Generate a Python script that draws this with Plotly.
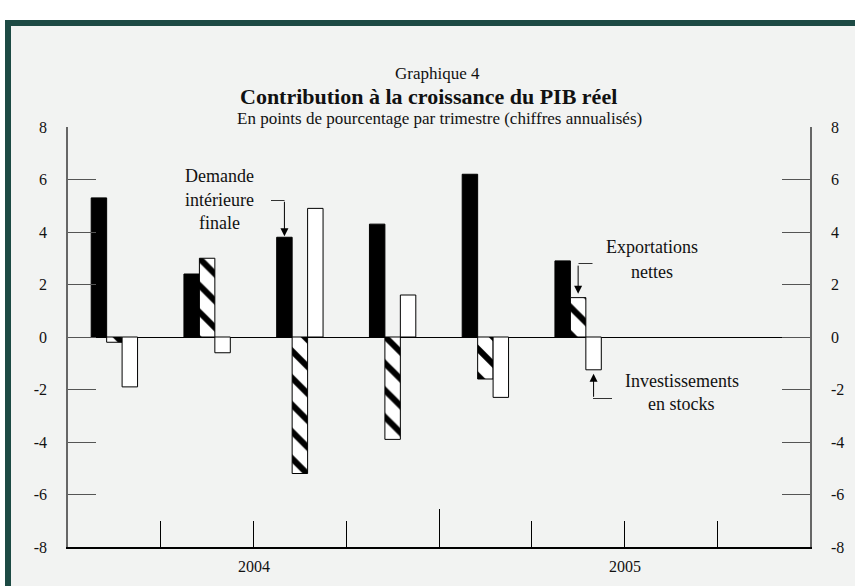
import plotly.graph_objects as go

# ---- data ----
quarters = ["2004T1", "2004T2", "2004T3", "2004T4", "2005T1", "2005T2", "2005T3", "2005T4"]
years = ["2004", "2005"]
demande_interieure = [5.3, 2.4, 3.8, 4.3, 6.2, 2.9]
exportations_nettes = [-0.2, 3.0, -5.2, -3.9, -1.6, 1.5]
investissements_stocks = [-1.9, -0.6, 4.9, 1.6, -2.3, -1.25]
y_ticks = [-8, -6, -4, -2, 0, 2, 4, 6, 8]
y_tick_text = ["-8", "-6", "-4", "-2", "0", "2", "4", "6", "8"]

W, H = 855, 586
L, R, T, B = 68, 45, 127, 39
PW, PH = W - L - R, H - T - B

def px_x(px):
    return (px - L) / PW

def px_y(py):
    return (H - B - py) / PH

n = len(demande_interieure)
xpos = [i + 0.5 for i in range(n)]
serif = "Liberation Serif"
ink = "#111"

fig = go.Figure()
fig.add_trace(go.Bar(x=xpos, y=demande_interieure, name="Demande intérieure finale",
                     marker=dict(color="black", line=dict(color="black", width=1))))
fig.add_trace(go.Bar(x=xpos, y=exportations_nettes, name="Exportations nettes",
                     marker=dict(color="white", line=dict(color="black", width=1),
                                 pattern=dict(shape="\\", fgcolor="black", bgcolor="white",
                                              fgopacity=1, size=19, solidity=0.32))))
fig.add_trace(go.Bar(x=xpos, y=investissements_stocks, name="Investissements en stocks",
                     marker=dict(color="white", line=dict(color="black", width=1))))
fig.add_trace(go.Scatter(x=[0], y=[0], yaxis="y2", mode="markers", marker=dict(opacity=0),
                         showlegend=False, hoverinfo="skip"))

fig.update_layout(
    width=W, height=H,
    margin=dict(l=L, r=R, t=T, b=B),
    paper_bgcolor="white",
    plot_bgcolor="rgba(0,0,0,0)",
    showlegend=False,
    barmode="group", bargap=0.5, bargroupgap=0,
    font=dict(family=serif, size=16, color=ink),
    xaxis=dict(range=[0, len(quarters)], showgrid=False, zeroline=False,
               showline=True, linecolor="black", linewidth=1.5,
               tickmode="array", tickvals=[4], ticks="inside", ticklen=38,
               tickcolor="black", tickwidth=1, showticklabels=False,
               minor=dict(tickmode="linear", tick0=0, dtick=1, ticks="inside",
                          ticklen=26, tickcolor="black", tickwidth=1)),
    yaxis=dict(range=[-8, 8], tickvals=y_ticks, ticktext=y_tick_text, ticks="inside",
               ticklen=28, tickcolor="#555", tickwidth=1, showgrid=False,
               zeroline=True, zerolinecolor="black", zerolinewidth=1,
               showline=True, linecolor="#666", linewidth=1.5,
               ticklabelstandoff=16, tickfont=dict(size=16)),
    yaxis2=dict(range=[-8, 8], tickvals=y_ticks, ticktext=y_tick_text, overlaying="y",
                side="right", ticks="inside", ticklen=28, tickcolor="#555", tickwidth=1,
                showgrid=False, zeroline=False, showline=True, linecolor="#666",
                linewidth=1.5, ticklabelstandoff=16, tickfont=dict(size=16)),
)

# frame and background
fig.add_shape(type="rect", xref="paper", yref="paper",
              x0=px_x(8), x1=px_x(880), y0=px_y(620), y1=px_y(23),
              fillcolor="#f2f3f2", line=dict(color="#1d4a44", width=6), layer="below")

def text_at(txt, px, py, size, bold=False):
    fig.add_annotation(text=f"<b>{txt}</b>" if bold else txt, xref="paper", yref="paper",
                       x=px_x(px), y=px_y(py), xanchor="center", yanchor="middle",
                       showarrow=False, font=dict(size=size, family=serif, color=ink))

# titles
text_at("Graphique 4", 437, 73, 17)
text_at("Contribution à la croissance du PIB réel", 428, 96, 22, bold=True)
text_at("En points de pourcentage par trimestre (chiffres annualisés)", 439, 118, 17)

# year labels
for i, yr in enumerate(years):
    fig.add_annotation(text=yr, x=2 + 4 * i, xref="x", yref="paper", y=px_y(566),
                       xanchor="center", yanchor="middle", showarrow=False,
                       font=dict(size=16, family=serif, color=ink))

bw = 1 / 6
lab = 18

# Demande intérieure finale (Q3 2004 black bar)
xa = 2 + 0.5 - bw
text_at("Demande", 219, 176, lab)
text_at("intérieure", 219, 200, lab)
text_at("finale", 219, 223, lab)
fig.add_shape(type="line", xref="paper", yref="paper", x0=px_x(271), x1=px_x(284.5),
              y0=px_y(200.5), y1=px_y(200.5), line=dict(color="#333", width=1))
fig.add_annotation(x=xa, y=demande_interieure[2], ax=0, ay=-37, text="", showarrow=True,
                   arrowhead=2, arrowsize=1.6, arrowwidth=1, arrowcolor="black", standoff=1)

# Exportations nettes (Q2 2005 hatched bar)
xe = 5 + 0.5
text_at("Exportations", 652, 247, lab)
text_at("nettes", 652, 272, lab)
fig.add_shape(type="line", xref="paper", yref="paper", x0=px_x(578.5), x1=px_x(592.5),
              y0=px_y(263.5), y1=px_y(263.5), line=dict(color="#333", width=1))
fig.add_annotation(x=xe, y=exportations_nettes[5], ax=0, ay=-33.5, text="", showarrow=True,
                   arrowhead=2, arrowsize=1.6, arrowwidth=1, arrowcolor="black", standoff=4)

# Investissements en stocks (Q2 2005 white bar)
xi = 5 + 0.5 + bw
text_at("Investissements", 682, 381, lab)
text_at("en stocks", 681, 404, lab)
fig.add_shape(type="line", xref="paper", yref="paper", x0=px_x(593), x1=px_x(612),
              y0=px_y(398.5), y1=px_y(398.5), line=dict(color="#333", width=1))
fig.add_annotation(x=xi, y=investissements_stocks[5], ax=0, ay=28.5, text="", showarrow=True,
                   arrowhead=2, arrowsize=1.6, arrowwidth=1, arrowcolor="black", standoff=4)

fig.write_html("out.html", config={"displayModeBar": False},
               post_script="document.body.style.margin='0';document.body.style.overflow='hidden';")
